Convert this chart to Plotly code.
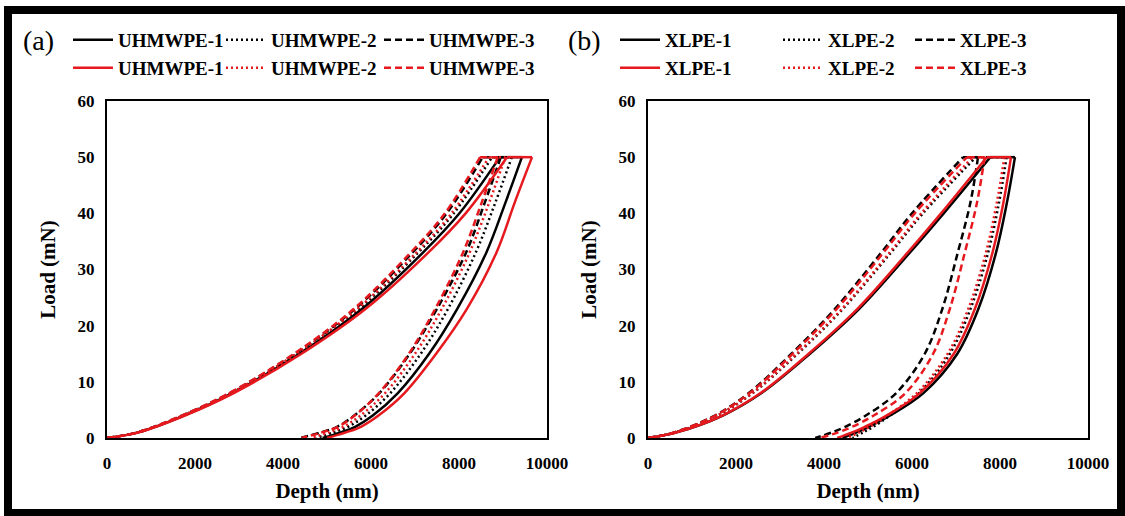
import plotly.graph_objects as go

# ---------------- data ----------------
LOADS_UP = [0, 1, 4, 8, 15, 23, 33, 40, 50]              # mN, loading branch
LOADS_DOWN = [50, 42, 33, 23, 15, 8, 4, 2, 1, 0]         # mN, unloading branch
HOLD_LOAD = 50

A_NAMES = ["UHMWPE-1", "UHMWPE-2", "UHMWPE-3"]
B_NAMES = ["XLPE-1", "XLPE-2", "XLPE-3"]

# (a) UHMWPE, depth (nm) at LOADS_UP / LOADS_DOWN
A_BLACK_UP = [
    [0, 710, 1750, 2850, 4370, 5800, 7180, 8010, 8930],
    [0, 700, 1730, 2820, 4320, 5720, 7070, 7880, 8750],
    [0, 690, 1710, 2790, 4270, 5640, 6940, 7720, 8540],
]
A_BLACK_DOWN = [
    [9430, 9060, 8620, 7960, 7320, 6610, 6040, 5640, 5310, 4900],
    [9200, 8830, 8380, 7750, 7130, 6440, 5880, 5480, 5150, 4750],
    [8950, 8590, 8160, 7500, 6880, 6190, 5620, 5230, 4860, 4380],
]
A_RED_UP = [
    [0, 720, 1770, 2880, 4420, 5880, 7300, 8150, 9090],
    [0, 700, 1720, 2810, 4300, 5690, 7030, 7830, 8680],
    [0, 690, 1700, 2780, 4250, 5610, 6900, 7680, 8480],
]
A_RED_DOWN = [
    [9660, 9270, 8850, 8180, 7480, 6760, 6170, 5770, 5430, 5000],
    [9050, 8690, 8240, 7610, 7000, 6320, 5760, 5370, 5040, 4650],
    [8880, 8520, 8090, 7460, 6860, 6180, 5630, 5250, 4880, 4420],
]

# (b) XLPE
B_BLACK_UP = [
    [0, 650, 1700, 2580, 3680, 4800, 5950, 6720, 7780],
    [0, 620, 1580, 2380, 3400, 4430, 5520, 6250, 7450],
    [0, 600, 1520, 2290, 3260, 4250, 5300, 6000, 7160],
]
B_BLACK_DOWN = [
    [8340, 8160, 7910, 7510, 7030, 6260, 5500, 5020, 4740, 4420],
    [8150, 7980, 7730, 7330, 6860, 6160, 5500, 5120, 4890, 4650],
    [7500, 7330, 7040, 6690, 6290, 5640, 4950, 4480, 4180, 3800],
]
B_RED_UP = [
    [0, 650, 1690, 2560, 3650, 4760, 5900, 6660, 7700],
    [0, 620, 1570, 2370, 3380, 4410, 5490, 6210, 7380],
    [0, 600, 1530, 2310, 3290, 4290, 5350, 6060, 7250],
]
B_RED_DOWN = [
    [8250, 8080, 7830, 7430, 6950, 6180, 5420, 4930, 4640, 4300],
    [8100, 7930, 7680, 7280, 6810, 6110, 5440, 5040, 4800, 4520],
    [7650, 7480, 7200, 6860, 6480, 5850, 5130, 4640, 4320, 3900],
]

X_TICKS = [0, 2000, 4000, 6000, 8000, 10000]
Y_TICKS = [0, 10, 20, 30, 40, 50, 60]

# ---------------- styling ----------------
W, H = 1125, 516
BLACK = "#000000"
RED = "#e6191f"
DASHES = ["solid", "2px,3px", "7px,4px"]
LW = 2.5
FONT = "Liberation Serif"

fig = go.Figure()

# legend slots: (x of line sample start, y centre) in pixels
A_LEG_X = [73, 226, 384]
B_LEG_X = [620, 783, 915]
ROW_Y = [40, 68]

legend_layout = {}
_leg_count = [0]


def new_legend(px, py):
    _leg_count[0] += 1
    key = "legend" if _leg_count[0] == 1 else f"legend{_leg_count[0]}"
    legend_layout[key] = dict(
        orientation="h", x=(px - 5) / W, y=1 - py / H, xanchor="left",
        yanchor="middle", itemwidth=40, bgcolor="rgba(0,0,0,0)",
        borderwidth=0,
        font=dict(family=FONT, size=19, color="black", weight="bold"),
        itemclick=False, itemdoubleclick=False)
    return key


def add_curve(up, down, color, dash, name, legend, xa, ya):
    common = dict(mode="lines", line=dict(color=color, width=LW, dash=dash),
                  xaxis=xa, yaxis=ya, legendgroup=legend, legend=legend,
                  name=name, hoverinfo="skip")
    fig.add_trace(go.Scatter(x=up, y=LOADS_UP, line_shape="spline",
                             showlegend=True, **common))
    fig.add_trace(go.Scatter(x=[up[-1], down[0]], y=[HOLD_LOAD, HOLD_LOAD],
                             showlegend=False, **common))
    fig.add_trace(go.Scatter(x=down, y=LOADS_DOWN, line_shape="spline",
                             showlegend=False, **common))


panels = [
    ("x", "y", A_NAMES, A_LEG_X, A_BLACK_UP, A_BLACK_DOWN, A_RED_UP, A_RED_DOWN),
    ("x2", "y2", B_NAMES, B_LEG_X, B_BLACK_UP, B_BLACK_DOWN, B_RED_UP, B_RED_DOWN),
]
for xa, ya, names, legx, kup, kdown, rup, rdown in panels:
    for i in range(3):
        leg = new_legend(legx[i], ROW_Y[0])
        add_curve(kup[i], kdown[i], BLACK, DASHES[i], names[i], leg, xa, ya)
    for i in range(3):
        leg = new_legend(legx[i], ROW_Y[1])
        add_curve(rup[i], rdown[i], RED, DASHES[i], names[i], leg, xa, ya)

tickfont = dict(family=FONT, size=17, color="black", weight="bold")
titlefont = dict(family=FONT, size=21, color="black", weight="bold")

ydom = [1 - 438 / H, 1 - 101 / H]
xdom_a = [107 / W, 547 / W]
xdom_b = [648 / W, 1088 / W]


def xaxis(dom, anchor):
    return dict(domain=dom, anchor=anchor, range=[0, 10000], tickvals=X_TICKS,
                ticktext=[str(v) for v in X_TICKS], showgrid=False,
                zeroline=False, showline=True, mirror=True, linecolor="black",
                linewidth=2, ticks="", tickfont=tickfont, ticklabelstandoff=9,
                title=dict(text="Depth (nm)", font=titlefont, standoff=11),
                automargin=False, fixedrange=True)


def yaxis(anchor):
    return dict(domain=ydom, anchor=anchor, range=[0, 60], tickvals=Y_TICKS,
                showgrid=False, zeroline=False, showline=True, mirror=True,
                linecolor="black", linewidth=2, ticks="", tickfont=tickfont,
                ticklabelstandoff=7,
                title=dict(text="Load (mN)", font=titlefont, standoff=16),
                automargin=False, fixedrange=True)


fig.update_layout(
    width=W, height=H,
    margin=dict(l=0, r=0, t=0, b=0, autoexpand=False),
    paper_bgcolor="white", plot_bgcolor="white",
    xaxis=xaxis(xdom_a, "y"), yaxis=yaxis("x"),
    xaxis2=xaxis(xdom_b, "y2"), yaxis2=yaxis("x2"),
    annotations=[
        dict(text="(a)", x=38 / W, y=1 - 40 / H, xref="paper", yref="paper",
             xanchor="center", yanchor="middle", showarrow=False,
             font=dict(family=FONT, size=28, color="black")),
        dict(text="(b)", x=584 / W, y=1 - 40 / H, xref="paper", yref="paper",
             xanchor="center", yanchor="middle", showarrow=False,
             font=dict(family=FONT, size=28, color="black")),
    ],
    shapes=[
        dict(type="rect", xref="paper", yref="paper",
             x0=8 / W, x1=1 - 4 / W, y0=3 / H, y1=1 - 10 / H,
             line=dict(color="black", width=8), fillcolor="rgba(0,0,0,0)",
             layer="above"),
    ],
    **legend_layout,
)

fig.write_html(
    "out.html",
    config={"displayModeBar": False, "staticPlot": True},
    post_script="document.body.style.margin='0px';"
                "document.body.style.overflow='hidden';",
)
